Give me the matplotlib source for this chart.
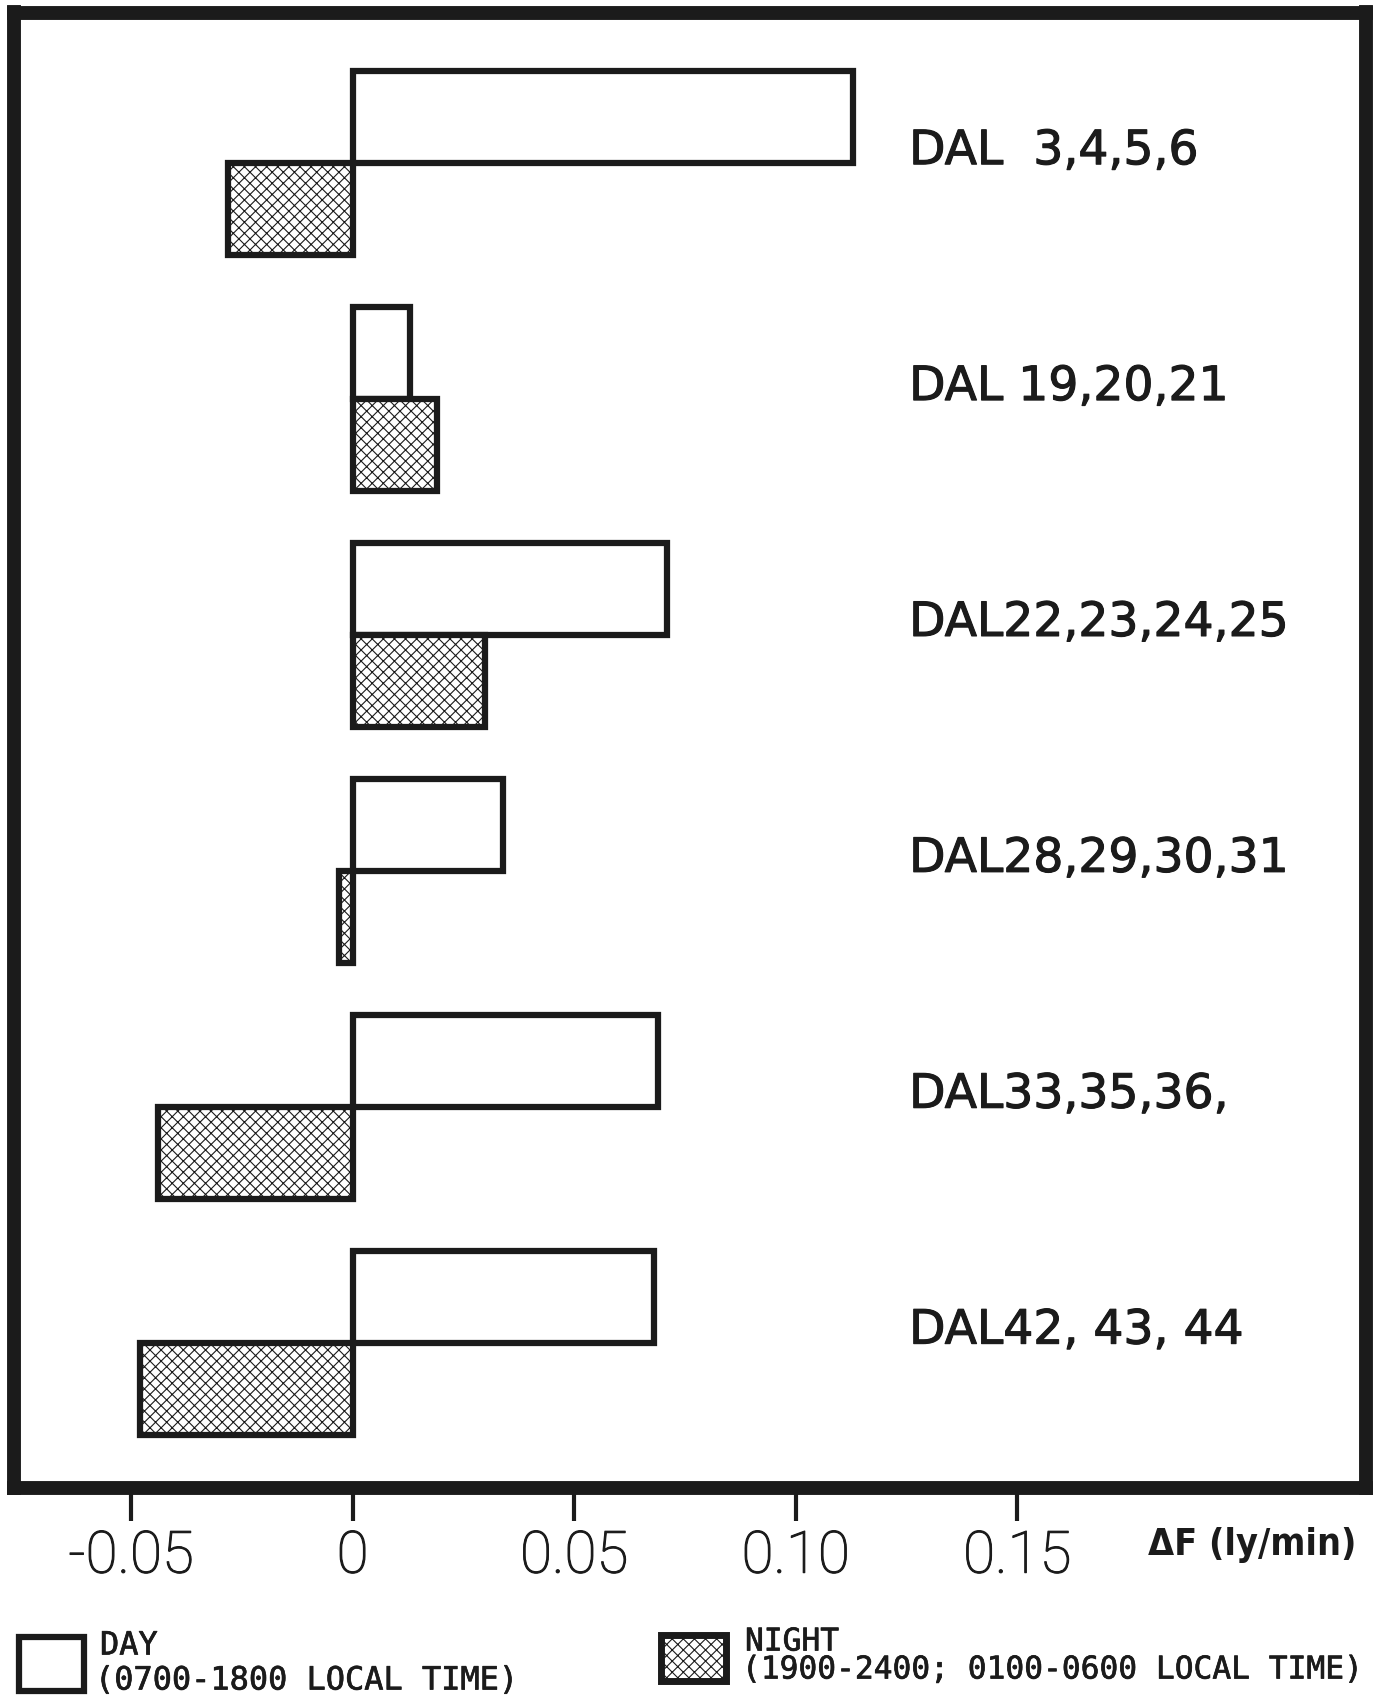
import matplotlib
matplotlib.use("Agg")
import matplotlib.pyplot as plt
import matplotlib.patheffects as pe
from matplotlib.patches import Rectangle

# Radiation flux change per flight group
groups = ["DAL  3,4,5,6", "DAL 19,20,21", "DAL22,23,24,25",
          "DAL28,29,30,31", "DAL33,35,36,", "DAL42, 43, 44"]
day = [0.113, 0.013, 0.071, 0.034, 0.069, 0.068]
night = [-0.028, 0.019, 0.030, -0.003, -0.044, -0.048]
xticks = [-0.05, 0.0, 0.05, 0.10, 0.15]
xticklabels = ["-0.05", "0", "0.05", "0.10", "0.15"]

INK = "#1b1b1b"
plt.rcParams["hatch.linewidth"] = 0.8
plt.rcParams["hatch.color"] = INK

W, H = 1383, 1697
fig = plt.figure(figsize=(W / 100, H / 100), dpi=100)
fig.patch.set_facecolor("white")

ax = fig.add_axes([14 / W, 1 - 1488 / H, (1366 - 14) / W, (1488 - 12.5) / H])
ax.set_xlim(-0.0764, 0.2287)
ax.set_ylim(5.615, -0.64)

h = 0.39
ypos = list(range(len(groups)))
ax.barh([y - h / 2 for y in ypos], day, height=h, left=0,
        facecolor="white", edgecolor=INK, linewidth=4.5, zorder=3)
ax.barh([y + h / 2 for y in ypos], night, height=h, left=0,
        facecolor="white", edgecolor=INK, linewidth=4.5, hatch="xxx", zorder=3)

heavy = [pe.withStroke(linewidth=0.8, foreground=INK)]
for y, name in zip(ypos, groups):
    ax.text(0.1256, y - 0.05, name, ha="left", va="center",
            fontsize=34, color=INK, family="DejaVu Sans",
            path_effects=heavy)

ax.set_yticks([])
ax.set_xticks(xticks)
ax.set_xticklabels(xticklabels)
ax.tick_params(axis="x", direction="out", length=24, width=3, pad=6,
               labelsize=42, color=INK, labelcolor=INK)
for lab in ax.get_xticklabels():
    lab.set_family("Roboto")
    lab.set_weight("light")
    lab.set_path_effects([pe.withStroke(linewidth=0.8, foreground=INK)])
for sp in ax.spines.values():
    sp.set_linewidth(10)
    sp.set_color(INK)

# Overlay in pixel units for the unit label and the key
ov = fig.add_axes([0, 0, 1, 1])
ov.set_xlim(0, W)
ov.set_ylim(H, 0)
ov.axis("off")
ov.patch.set_visible(False)

ov.text(1252, 1545, "ΔF (ly/min)", ha="center", va="center", fontsize=27,
        weight="bold", family="DejaVu Sans", stretch="condensed", color=INK)

key_font = dict(ha="left", va="center", color=INK, family="DejaVu Sans Mono",
                path_effects=[pe.withStroke(linewidth=0.5, foreground=INK)])

ov.add_patch(Rectangle((19, 1637), 65, 54, facecolor="white", edgecolor=INK,
                       linewidth=4.5))
ov.text(100, 1646, "DAY", fontsize=23, **key_font)
ov.text(95, 1681, "(0700-1800 LOCAL TIME)", fontsize=23, **key_font)

ov.add_patch(Rectangle((661, 1635), 65, 46, facecolor="white", edgecolor=INK,
                       linewidth=5, hatch="xxx"))
ov.text(745, 1642, "NIGHT", fontsize=22.5, **key_font)
ov.text(742, 1670, "(1900-2400; 0100-0600 LOCAL TIME)", fontsize=22.5,
        **key_font)

fig.savefig("out.png", dpi=100)
